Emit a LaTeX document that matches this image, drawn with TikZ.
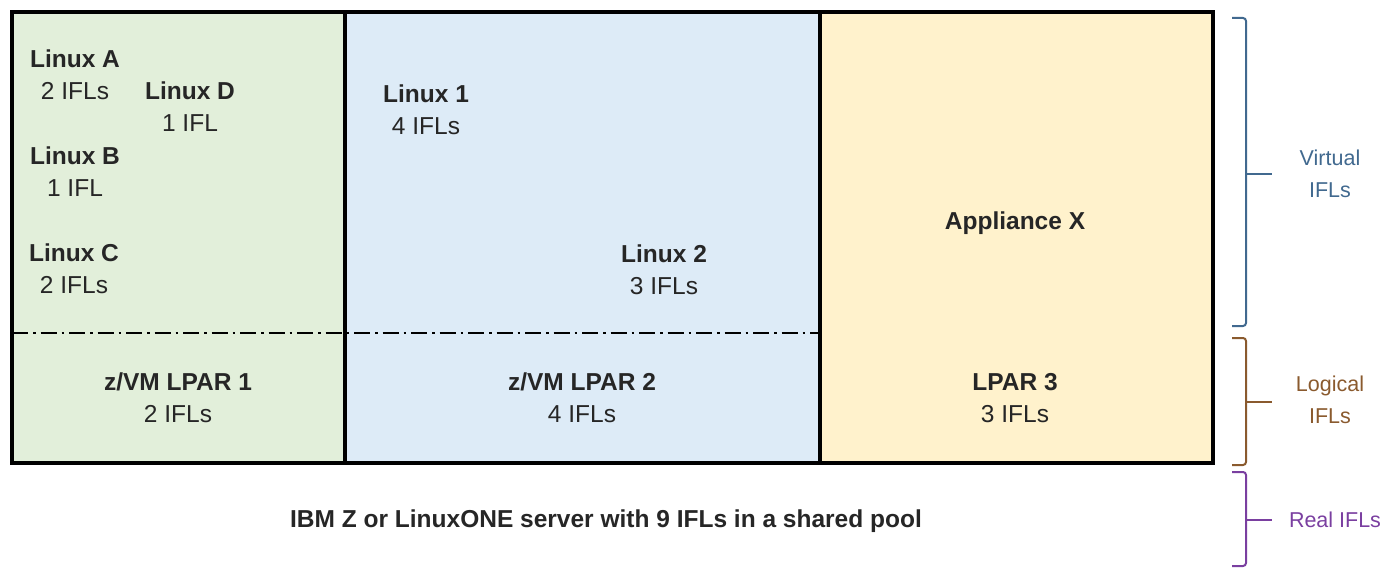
\documentclass[tikz,border=0pt]{standalone}
\usepackage{fontspec}
\setmainfont{Liberation Sans}
\definecolor{zgreen}{HTML}{E2EFDA}
\definecolor{zblue}{HTML}{DDEBF7}
\definecolor{zorange}{HTML}{FFF2CC}
\definecolor{virtc}{HTML}{41698F}
\definecolor{logc}{HTML}{8A5A2E}
\definecolor{realc}{HTML}{7A3FA0}
\definecolor{txt}{HTML}{262626}
\tikzset{
  lbl/.style={align=center, text=txt, font=\fontsize{24.5}{32}\selectfont, inner sep=0pt},
  frame/.style={line width=4pt, draw=black},
  sep/.style={line width=1.6pt, dash pattern=on 16pt off 5pt on 2.5pt off 5pt},
  brace/.style={line width=2pt, rounded corners=3pt},
  side/.style={align=center, font=\fontsize{21.5}{32}\selectfont, inner sep=0pt}
}
\begin{document}
\begin{tikzpicture}[x=1pt,y=-1pt]
\useasboundingbox (0,0) rectangle (1400,569);
% partition areas
\fill[zgreen] (12,12) rectangle (345,463);
\fill[zblue] (345,12) rectangle (820,463);
\fill[zorange] (820,12) rectangle (1213,463);
% boundary between virtual and logical levels
\coordinate (sepL) at (12,333);
\coordinate (sepR) at (820,333);
\draw[sep] (sepL) -- (sepR);
% server frame and LPAR dividers
\draw[frame] (12,12) rectangle (1213,463);
\draw[frame] (345,12) -- (345,463);
\draw[frame] (820,12) -- (820,463);
% guests
\node[lbl] (la) at (75,75) {\textbf{Linux A}\\2 IFLs};
\node[lbl] (ld) at (190,107) {\textbf{Linux D}\\1 IFL};
\node[lbl] (lb) at (75,172) {\textbf{Linux B}\\1 IFL};
\node[lbl] (lc) at (74,269) {\textbf{Linux C}\\2 IFLs};
\node[lbl] (l1) at (426,110) {\textbf{Linux 1}\\4 IFLs};
\node[lbl] (l2) at (664,270) {\textbf{Linux 2}\\3 IFLs};
\node[lbl] (ax) at (1015,223) {\textbf{Appliance X}};
% LPARs
\node[lbl] (p1) at (178,398) {\textbf{z/VM LPAR 1}\\2 IFLs};
\node[lbl] (p2) at (582,398) {\textbf{z/VM LPAR 2}\\4 IFLs};
\node[lbl] (p3) at (1015,398) {\textbf{LPAR 3}\\3 IFLs};
\node[lbl] (srv) at (606,521) {\textbf{IBM Z or LinuxONE server with 9 IFLs in a shared pool}};
% level brackets
\draw[brace, virtc] (1232,18) -- (1246,18) -- (1246,326) -- (1232,326);
\draw[line width=2pt, virtc] (1246,174) -- (1272,174);
\draw[brace, logc] (1232,338) -- (1246,338) -- (1246,465) -- (1232,465);
\draw[line width=2pt, logc] (1246,402) -- (1272,402);
\draw[brace, realc] (1232,472) -- (1246,472) -- (1246,566) -- (1232,566);
\draw[line width=2pt, realc] (1246,520) -- (1272,520);
\node[side, text=virtc] (vi) at (1330,174) {Virtual\\IFLs};
\node[side, text=logc] (li) at (1330,400) {Logical\\IFLs};
\node[side, text=realc] (ri) at (1335,520) {Real IFLs};
\end{tikzpicture}
\end{document}
